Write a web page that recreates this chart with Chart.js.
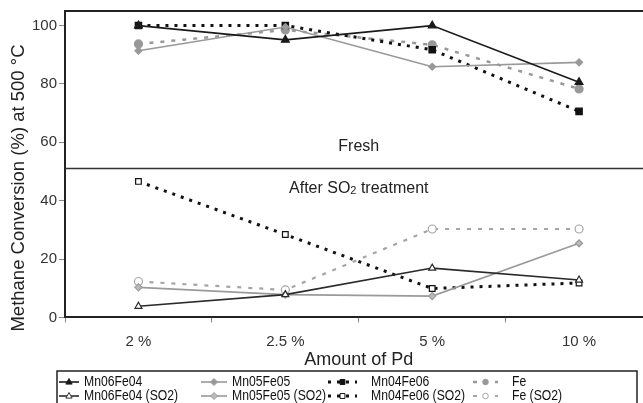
<!DOCTYPE html>
<html>
<head>
<meta charset="utf-8">
<script src="https://cdn.jsdelivr.net/npm/chart.js@4.4.1/dist/chart.umd.min.js"></script>
<style>
  html, body { margin: 0; padding: 0; background: #fff; overflow: hidden; }
  #wrap { width: 660px; height: 403px; }
</style>
</head>
<body>
<div id="wrap"><canvas id="pdChart"></canvas></div>
<script>
const categories = ['2 %', '2.5 %', '5 %', '10 %'];

// fresh catalysts
const mn06fe04 = [100, 95.1, 100, 80.6];
const mn05fe05 = [91.4, 99.5, 85.9, 87.4];
const mn04fe06 = [100, 100, 91.7, 70.6];
const fe = [93.7, 98.5, 93.4, 78.3];

// after SO2 treatment
const mn06fe04So2 = [3.8, 7.8, 16.9, 12.8];
const mn05fe05So2 = [10.3, 7.8, 7.3, 25.4];
const mn04fe06So2 = [46.6, 28.4, 9.9, 11.8];
const feSo2 = [12.3, 9.4, 30.3, 30.3];

const yTicks = [0, 20, 40, 60, 80, 100];
const dividerValue = 51;

const FONT = "'Liberation Sans', Arial, sans-serif";

function series(label, data, color, width, dash, style, radius, fill) {
  return {
    label: label,
    data: data,
    borderColor: color,
    borderWidth: width,
    borderDash: dash,
    pointStyle: style,
    pointRadius: radius,
    pointBorderColor: color,
    pointBackgroundColor: fill,
    pointBorderWidth: 1.2,
    fill: false,
    tension: 0
  };
}

const datasets = [
  series('Mn06Fe04', mn06fe04, '#1a1a1a', 1.6, [], 'triangle', 4.5, '#1a1a1a'),
  series('Mn05Fe05', mn05fe05, '#999', 1.6, [], 'rectRot', 3.5, '#999'),
  series('Mn04Fe06', mn04fe06, '#111', 3, [3, 6], 'rect', 4.5, '#111'),
  series('Fe', fe, '#999', 2.5, [4, 7], 'circle', 4, '#999'),
  series('Mn06Fe04 (SO2)', mn06fe04So2, '#2a2a2a', 1.6, [], 'triangle', 4, '#fff'),
  series('Mn05Fe05 (SO2)', mn05fe05So2, '#9a9a9a', 1.6, [], 'rectRot', 3.5, '#bbb'),
  series('Mn04Fe06 (SO2)', mn04fe06So2, '#111', 3, [3, 6], 'rect', 4, '#fff'),
  series('Fe (SO2)', feSo2, '#a5a5a5', 2.2, [4, 7], 'circle', 4, '#fff')
];

function marker(ctx, style, x, y, r, stroke, fillCol) {
  ctx.save();
  ctx.setLineDash([]);
  ctx.beginPath();
  if (style === 'triangle') {
    ctx.moveTo(x, y - r);
    ctx.lineTo(x + r * 0.9, y + r * 0.6);
    ctx.lineTo(x - r * 0.9, y + r * 0.6);
    ctx.closePath();
  } else if (style === 'rectRot') {
    ctx.moveTo(x, y - r);
    ctx.lineTo(x + r, y);
    ctx.lineTo(x, y + r);
    ctx.lineTo(x - r, y);
    ctx.closePath();
  } else if (style === 'rect') {
    ctx.rect(x - r * 0.7, y - r * 0.7, r * 1.4, r * 1.4);
  } else {
    ctx.arc(x, y, r * 0.8, 0, Math.PI * 2);
  }
  ctx.fillStyle = fillCol;
  ctx.fill();
  ctx.lineWidth = 1;
  ctx.strokeStyle = stroke;
  ctx.stroke();
  ctx.restore();
}

const framePlugin = {
  id: 'frame',
  afterDraw(chart) {
    const { ctx, chartArea: a, scales } = chart;
    ctx.save();
    ctx.strokeStyle = '#222';
    ctx.lineWidth = 2;
    ctx.beginPath();
    ctx.moveTo(a.left, a.top);
    ctx.lineTo(chart.width, a.top);
    ctx.stroke();

    const yd = scales.y.getPixelForValue(dividerValue);
    ctx.lineWidth = 1.5;
    ctx.strokeStyle = '#333';
    ctx.beginPath();
    ctx.moveTo(a.left, yd);
    ctx.lineTo(chart.width, yd);
    ctx.stroke();

    // y axis title
    ctx.save();
    ctx.translate(19, 188);
    ctx.rotate(-Math.PI / 2);
    ctx.font = '18.5px ' + FONT;
    ctx.fillStyle = '#222';
    ctx.textAlign = 'center';
    ctx.textBaseline = 'middle';
    ctx.fillText('Methane Conversion (%) at 500 °C', 0, 0);
    ctx.restore();

    // panel captions
    const cx = (a.left + a.right) / 2;
    ctx.fillStyle = '#222';
    ctx.textBaseline = 'middle';
    ctx.font = '16px ' + FONT;
    ctx.textAlign = 'center';
    ctx.fillText('Fresh', cx, yd - 22);

    const p1 = 'After SO', p2 = '2', p3 = ' treatment';
    const w1 = ctx.measureText(p1).width;
    const w3 = ctx.measureText(p3).width;
    ctx.font = '11px ' + FONT;
    const w2 = ctx.measureText(p2).width;
    let x = cx - (w1 + w2 + w3) / 2;
    const ty = yd + 20;
    ctx.textAlign = 'left';
    ctx.font = '16px ' + FONT;
    ctx.fillText(p1, x, ty);
    ctx.font = '11px ' + FONT;
    ctx.fillText(p2, x + w1, ty + 2);
    ctx.font = '16px ' + FONT;
    ctx.fillText(p3, x + w1 + w2, ty);

    // legend
    const boxTop = 371;
    ctx.lineWidth = 1.5;
    ctx.strokeStyle = '#222';
    ctx.strokeRect(57, boxTop, 580, 50);
    const lineStart = [59, 201, 328, 473];
    const lineEnd = [79, 227, 357, 498];
    const textX = [84, 232, 371, 512];
    const rowY = [382, 396];
    ctx.font = '14px ' + FONT;
    ctx.textAlign = 'left';
    chart.data.datasets.forEach((ds, i) => {
      const col = i % 4, row = Math.floor(i / 4);
      const y = rowY[row];
      ctx.save();
      ctx.strokeStyle = ds.borderColor;
      ctx.lineWidth = ds.borderWidth;
      ctx.setLineDash(ds.borderDash);
      ctx.beginPath();
      ctx.moveTo(lineStart[col], y);
      ctx.lineTo(lineEnd[col], y);
      ctx.stroke();
      ctx.restore();
      marker(ctx, ds.pointStyle, (lineStart[col] + lineEnd[col]) / 2, y, 3.5,
        ds.pointBorderColor, ds.pointBackgroundColor);
      // narrow-looking legend text
      ctx.save();
      ctx.translate(textX[col], y + 0.5);
      ctx.scale(0.87, 1);
      ctx.fillStyle = '#111';
      ctx.fillText(ds.label, 0, 0);
      ctx.restore();
    });
    ctx.restore();
  }
};

new Chart(document.getElementById('pdChart'), {
  type: 'line',
  data: { labels: categories, datasets: datasets },
  plugins: [framePlugin],
  options: {
    responsive: true,
    maintainAspectRatio: false,
    animation: false,
    layout: { padding: { left: 30, top: 11, right: 7.5, bottom: 32 } },
    plugins: {
      legend: { display: false },
      tooltip: { enabled: false }
    },
    scales: {
      x: {
        offset: true,
        grid: { display: true, drawOnChartArea: false, tickLength: 5, color: '#888', offset: true },
        border: { display: true, color: '#222', width: 2 },
        ticks: { color: '#333', font: { family: FONT, size: 15 }, padding: 10 },
        title: {
          display: true,
          text: 'Amount of Pd',
          color: '#222',
          font: { family: FONT, size: 18 },
          padding: { top: -11, bottom: 0 }
        }
      },
      y: {
        min: 0,
        max: 105,
        afterBuildTicks(scale) {
          scale.ticks = yTicks.map(v => ({ value: v }));
        },
        grid: { display: true, drawOnChartArea: false, tickLength: 6, color: '#888' },
        border: { display: true, color: '#222', width: 2 },
        ticks: { color: '#333', font: { family: FONT, size: 15 }, padding: 2 },
        title: { display: false }
      }
    }
  }
});
</script>
</body>
</html>
